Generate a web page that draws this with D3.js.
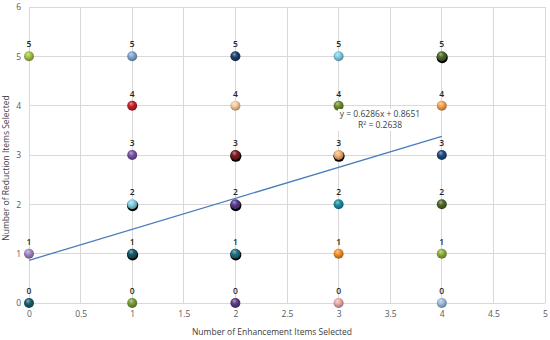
<!DOCTYPE html>
<html>
<head>
<meta charset="utf-8">
<script src="https://cdn.jsdelivr.net/npm/d3@7"></script>
<style>
  body { margin: 0; background: #fff; }
  text { font-family: "Open Sans", sans-serif; }
</style>
</head>
<body>
<div id="chart"></div>
<script>
// enhancement items (x) and reduction items (y) for each point
const enhancement = [0,0,0, 1,1,1,1,1,1, 2,2,2,2,2,2, 3,3,3,3,3,3, 4,4,4,4,4,4];
const reduction   = [5,1,0, 5,4,3,2,1,0, 5,4,3,2,1,0, 5,4,3,2,1,0, 5,4,3,2,1,0];
const pointColors = [
  "#a3c444", "#9f88c4", "#1d5c6c",
  "#7fa4cf", "#c3232b", "#7752a6", "#86d2e3", "#185a6a", "#7a9a3a",
  "#1f3e6c", "#f5cb9c", "#7c1d1d", "#5b3a8c", "#1e7283", "#5c3c84",
  "#80cde1", "#6c8d2c", "#f5b373", "#1f8ba2", "#f2922a", "#e9abab",
  "#4b6b29", "#f5a353", "#1f4a7c", "#4f6428", "#8cae3c", "#9dbbde"
];
const shadowed = [0,0,0, 0,0,0,1,1,0, 0,0,1,1,1,0, 0,0,1,0,0,0, 1,0,0,0,0,0];
const xTicks = [0, 0.5, 1, 1.5, 2, 2.5, 3, 3.5, 4, 4.5, 5];
const yTicks = [0, 1, 2, 3, 4, 5, 6];
const trendSlope = 0.6286, trendIntercept = 0.8651, trendR2 = 0.2638;
const trendRange = [0, 4];

const W = 550, H = 340;
const margin = { top: 7, right: 5, bottom: 37, left: 29 };
const width = W - margin.left - margin.right,
      height = H - margin.top - margin.bottom;

const svg = d3.select("#chart").append("svg")
  .attr("width", W).attr("height", H);

const defs = svg.append("defs");
pointColors.forEach((c, i) => {
  const g = defs.append("radialGradient")
    .attr("id", "ball" + i)
    .attr("cx", "45%").attr("cy", "40%").attr("r", "60%")
    .attr("fx", "38%").attr("fy", "28%");
  g.append("stop").attr("offset", "0%").attr("stop-color", d3.interpolateRgb(c, "#fff")(0.5));
  g.append("stop").attr("offset", "45%").attr("stop-color", c);
  g.append("stop").attr("offset", "100%").attr("stop-color", d3.color(c).darker(1.2));
});

const g = svg.append("g").attr("transform", `translate(${margin.left},${margin.top})`);

const x = d3.scaleLinear().domain([0, 5]).range([0, width]);
const y = d3.scaleLinear().domain([0, 6]).range([height, 0]);

// grid
g.append("g").selectAll("line").data(xTicks).enter().append("line")
  .attr("x1", d => x(d)).attr("x2", d => x(d))
  .attr("y1", 0).attr("y2", height)
  .attr("stroke", "#d9d9d9").attr("stroke-width", 1)
  .attr("shape-rendering", "crispEdges");
g.append("g").selectAll("line").data(yTicks).enter().append("line")
  .attr("x1", 0).attr("x2", width)
  .attr("y1", d => y(d)).attr("y2", d => y(d))
  .attr("stroke", "#d9d9d9").attr("stroke-width", 1)
  .attr("shape-rendering", "crispEdges");

// axes (labels only)
const xAxis = g.append("g").attr("transform", `translate(0,${height})`)
  .call(d3.axisBottom(x).tickValues(xTicks).tickSize(0).tickPadding(8).tickFormat(d3.format("")));
const yAxis = g.append("g")
  .call(d3.axisLeft(y).tickValues(yTicks).tickSize(0).tickPadding(8).tickFormat(d3.format("")));
[xAxis, yAxis].forEach(a => {
  a.select(".domain").remove();
  a.selectAll("text").attr("fill", "#595959").style("font-size", "8.5px")
    .style("font-family", "'Open Sans', sans-serif");
});

// trendline
g.append("line")
  .attr("x1", x(trendRange[0])).attr("y1", y(trendSlope * trendRange[0] + trendIntercept))
  .attr("x2", x(trendRange[1])).attr("y2", y(trendSlope * trendRange[1] + trendIntercept))
  .attr("stroke", "#4a7ebb").attr("stroke-width", 1.3);

const pts = enhancement.map((e, i) => ({ x: e, y: reduction[i], i: i, s: shadowed[i] }));

// shadows
g.append("g").selectAll("circle").data(pts.filter(d => d.s)).enter().append("circle")
  .attr("cx", d => x(d.x) + 0.4).attr("cy", d => y(d.y) + 1.2)
  .attr("r", 5.6).attr("fill", "#000");

// points
g.append("g").selectAll("circle").data(pts).enter().append("circle")
  .attr("cx", d => x(d.x)).attr("cy", d => y(d.y))
  .attr("r", 5).attr("fill", d => `url(#ball${d.i})`);

// data labels
g.append("g").selectAll("text").data(pts).enter().append("text")
  .attr("x", d => x(d.x)).attr("y", d => y(d.y) - 9)
  .attr("text-anchor", "middle")
  .attr("fill", "#262626").style("font-size", "8.5px").style("font-weight", "600")
  .text(d => d.y);

// equation label
const eqX = 380, eqY = 117;
g.append("rect").attr("x", eqX - margin.left - 42).attr("y", eqY - margin.top - 8)
  .attr("width", 84).attr("height", 22).attr("fill", "#fff");
const eq = svg.append("text").attr("text-anchor", "middle")
  .attr("fill", "#404040").style("font-size", "8.5px");
eq.append("tspan").attr("x", eqX).attr("y", eqY)
  .text(`y = ${trendSlope}x + ${trendIntercept}`);
eq.append("tspan").attr("x", eqX).attr("y", eqY + 11)
  .text(`R² = ${trendR2}`);

// axis titles
svg.append("text").attr("x", margin.left + width / 2 - 15).attr("y", 335)
  .attr("text-anchor", "middle").attr("fill", "#404040").style("font-size", "8.5px")
  .text("Number of Enhancement Items Selected");
svg.append("text").attr("transform", `translate(9,${margin.top + height / 2 + 13}) rotate(-90)`)
  .attr("text-anchor", "middle").attr("fill", "#404040").style("font-size", "8.5px")
  .text("Number of Reduction Items Selected");
</script>
</body>
</html>
